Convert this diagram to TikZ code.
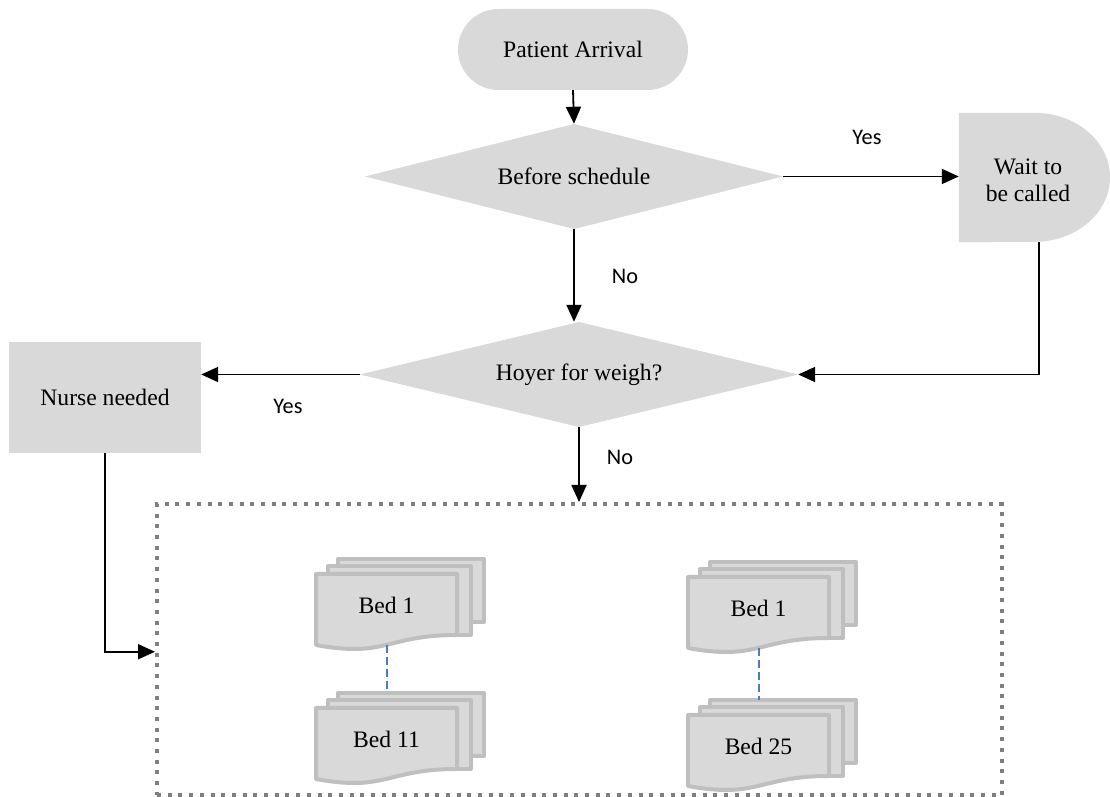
\documentclass[tikz,border=0pt]{standalone}
\usepackage{fontspec}
\setmainfont{Liberation Serif}
\newfontfamily\labelfont{Carlito}
\usetikzlibrary{shapes.misc,arrows.meta}
\definecolor{shapegray}{HTML}{D9D9D9}
\definecolor{pageedge}{HTML}{BFBFBF}
\definecolor{framegray}{HTML}{7F7F7F}
\definecolor{linkblue}{HTML}{4A7EBB}

\begin{document}
\begin{tikzpicture}[x=1pt,y=1pt,
  every node/.style={font=\fontsize{23.6}{27}\selectfont, inner sep=0pt},
  flowbox/.style={fill=shapegray, draw=none},
  terminal/.style={flowbox, rounded rectangle, minimum width=230pt, minimum height=81pt},
  decision/.style={rectangle, minimum height=105pt,
    path picture={\fill[shapegray] (path picture bounding box.north)
      -- (path picture bounding box.east) -- (path picture bounding box.south)
      -- (path picture bounding box.west) -- cycle;}},
  process/.style={flowbox, rectangle, minimum width=192pt, minimum height=111pt},
  flow/.style={line width=1.8pt, -{Triangle[length=17pt,width=15pt]}},
  branch/.style={font=\labelfont\fontsize{22.3}{26}\selectfont},
  docpage/.style={fill=shapegray, draw=pageedge, line width=4pt, line join=round},
  link/.style={draw=linkblue, line width=1.8pt, dash pattern=on 8pt off 4pt},
  frame/.style={draw=framegray, line width=4pt, dash pattern=on 4pt off 6.7pt},
  pics/multidoc/.style={code={
    % two pages stacked behind, then the front page with its wavy foot
    \path[docpage] (22,15) rectangle (168,-48);
    \path[docpage] (12,8) rectangle (155,-61);
    \path[docpage] (0,0) -- (141,0) -- (141,-61)
      .. controls (70.5,-61) and (70.5,-84) .. (0,-71) -- cycle;
    \node (-text) at (70.5,-31.5) {#1};
    \coordinate (-top) at (71,15);
    \coordinate (-bot) at (71,-71);
  }}
]
\useasboundingbox (0,0) rectangle (1110,797);

% main flow
\node[terminal] (arrive) at (573,747.5) {Patient Arrival};
\node[decision, minimum width=418pt] (before) at (574,620.5) {Before schedule};
\node[decision, minimum width=438pt] (hoyer) at (579,422.5) {Hoyer for weigh?};
\node[process] (nurse) at (105,399.5) {Nurse needed};

% delay shape
\node[minimum width=151pt, minimum height=129pt] (wait) at (1034.5,619.5) {};
\fill[shapegray] (wait.south west) -- (wait.north west) -- (wait.north)
  arc[start angle=90, end angle=-90, x radius=75.5pt, y radius=64.5pt] -- cycle;
\node[align=center] (waitlbl) at (1028,617) {Wait to\\be called};

% bed area
\node[frame, minimum width=844.5pt, minimum height=291.5pt] (beds) at (579.25,147.25) {};
\pic (L1) at (316,223) {multidoc={Bed 1}};
\pic (L2) at (316,89) {multidoc={Bed 11}};
\pic (R1) at (688,220) {multidoc={Bed 1}};
\pic (R2) at (688,82) {multidoc={Bed 25}};
\draw[link] (L1-bot) -- (L2-top);
\draw[link] (R1-bot) -- (R2-top);

% connectors
\draw[flow] (arrive.south) -- (before.north);
\draw[flow] (before.east) -- (before.east -| wait.west);
\draw[flow] (before.south) -- (before.south |- hoyer.north);
\draw[flow] ([xshift=4.5pt]wait.south) |- (hoyer.east);
\draw[flow] (hoyer.west) -- (hoyer.west -| nurse.east);
\draw[flow] (hoyer.south) -- (hoyer.south |- beds.north);
\draw[flow] (nurse.south) |- ([yshift=-2pt]beds.west);

% branch labels
\node[branch] (yes1) at (867,660) {Yes};
\node[branch] (no1) at (625,521) {No};
\node[branch] (yes2) at (288,391) {Yes};
\node[branch] (no2) at (620,340) {No};
\end{tikzpicture}
\end{document}
